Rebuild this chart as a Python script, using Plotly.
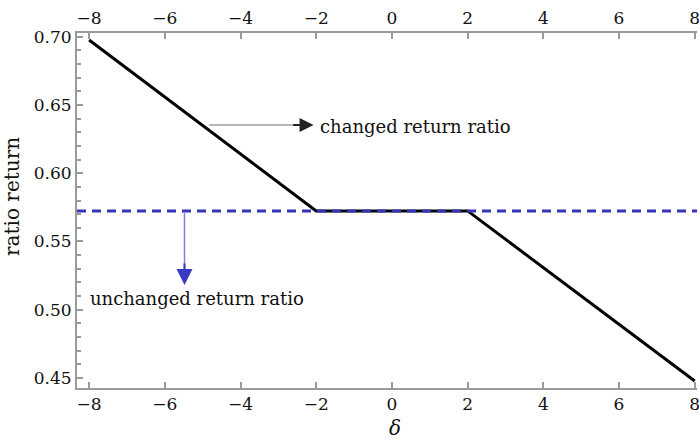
import plotly.graph_objects as go

# data
delta = [-8, -2, 2, 8]
changed_ratio = [0.6976, 0.5724, 0.5724, 0.4478]
unchanged_x = [-8.32, 8.06]
unchanged_ratio = [0.5724, 0.5724]
x_ticks = [-8, -6, -4, -2, 0, 2, 4, 6, 8]
y_ticks = [0.45, 0.50, 0.55, 0.60, 0.65, 0.70]
y_tick_labels = ["0.45", "0.50", "0.55", "0.60", "0.65", "0.70"]

FONT = "DejaVu Serif"
AXC = "#9a9a9a"
TXT = "#111"
FS = 17

fig = go.Figure()
fig.add_trace(go.Scatter(x=delta, y=changed_ratio, mode="lines",
                         line=dict(color="black", width=3), showlegend=False))
fig.add_trace(go.Scatter(x=unchanged_x, y=unchanged_ratio, mode="lines",
                         line=dict(color="#3535b5", width=3, dash="9px,6px"),
                         showlegend=False))
# invisible trace for top axis
fig.add_trace(go.Scatter(x=delta, y=changed_ratio, xaxis="x2", mode="lines",
                         line=dict(width=0), opacity=0, showlegend=False,
                         hoverinfo="skip"))

axis_common = dict(showgrid=False, zeroline=False, showline=True, linecolor=AXC,
                   linewidth=2, ticks="inside", tickcolor=AXC, ticklen=6,
                   tickwidth=2, automargin=False, ticklabeloverflow="allow",
                   tickfont=dict(family=FONT, size=FS, color=TXT))

xt = [str(v).replace("-", "\u2212") for v in x_ticks]

fig.update_layout(
    width=699, height=440,
    margin=dict(l=77, r=2, t=33, b=52),
    plot_bgcolor="white", paper_bgcolor="white",
    xaxis=dict(range=[-8.32, 8.06], tickvals=x_ticks, ticktext=xt, **axis_common),
    xaxis2=dict(range=[-8.32, 8.06], tickvals=x_ticks, overlaying="x", side="top",
                anchor="y", matches="x", ticktext=xt, **axis_common),
    yaxis=dict(range=[0.4427, 0.7027], tickvals=y_ticks, ticktext=y_tick_labels,
               minor=dict(dtick=0.01, ticks="inside", ticklen=4, tickcolor=AXC,
                          tickwidth=2),
               **axis_common),
    font=dict(family=FONT),
)

# axis titles
fig.add_annotation(xref="paper", yref="paper", x=-65 / 620, y=(388 - 197) / 355,
                   text="ratio return", textangle=-90, showarrow=False,
                   xanchor="center", yanchor="middle",
                   font=dict(family=FONT, size=20, color=TXT))
fig.add_annotation(xref="paper", yref="paper", x=(395 - 77) / 620, y=(388 - 428) / 355,
                   text="<i>δ</i>", showarrow=False, xanchor="center", yanchor="middle",
                   font=dict(family=FONT, size=20, color=TXT))

# gray arrow to "changed return ratio"
fig.add_annotation(x=-2.15, y=0.6354, ax=-4.87, ay=0.6354, axref="x", ayref="y",
                   xref="x", yref="y", showarrow=True, arrowhead=0,
                   arrowcolor="#a0a0a0", arrowwidth=1.5, text="")
fig.add_annotation(x=-2.07, y=0.6354, ax=-2.65, ay=0.6354, axref="x", ayref="y",
                   xref="x", yref="y", showarrow=True, arrowhead=2, arrowsize=1.4,
                   arrowcolor="#222", arrowwidth=2, text="")
fig.add_annotation(x=-1.95, y=0.6345, xref="x", yref="y", text="changed return ratio",
                   showarrow=False, xanchor="left", yanchor="middle",
                   font=dict(family=FONT, size=18, color=TXT))

# blue arrow to "unchanged return ratio"
fig.add_annotation(x=-5.48, y=0.527, ax=-5.48, ay=0.5724, axref="x", ayref="y",
                   xref="x", yref="y", showarrow=True, arrowhead=0,
                   arrowcolor="#8080dc", arrowwidth=1.5, text="")
fig.add_annotation(x=-5.48, y=0.5182, ax=-5.48, ay=0.535, axref="x", ayref="y",
                   xref="x", yref="y", showarrow=True, arrowhead=2, arrowsize=1.6,
                   arrowcolor="#3a3ac0", arrowwidth=2, text="")
fig.add_annotation(x=-8.03, y=0.5085, xref="x", yref="y", text="unchanged return ratio",
                   showarrow=False, xanchor="left", yanchor="middle",
                   font=dict(family=FONT, size=18, color=TXT))

fig.write_html("out.html", config={"displayModeBar": False},
               post_script="document.body.style.margin='0';"
                           "document.body.style.overflow='hidden';")
